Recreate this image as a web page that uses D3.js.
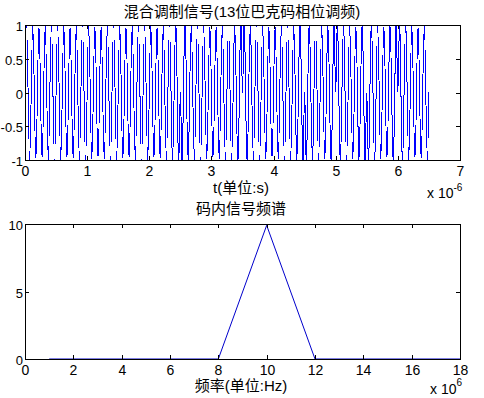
<!DOCTYPE html>
<html>
<head>
<meta charset="utf-8">
<style>
  body { margin: 0; background: #fff; }
  svg text { font-family: "Liberation Sans", "Noto Sans CJK SC", sans-serif; font-size: 14px; fill: #000; }
  svg text.ylab { font-size: 13px; }
  svg text.lbl { font-size: 15px; }
  .frame { fill: none; stroke: #000; stroke-width: 1; shape-rendering: crispEdges; }
  .tick { stroke: #000; stroke-width: 1; shape-rendering: crispEdges; }
</style>
</head>
<body>
<script src="https://d3js.org/d3.v7.min.js"></script>
<script>
// 13-bit Barker code, one bit per 0.5 us
var barkerCode = [1, 1, 1, 1, 1, -1, -1, 1, 1, -1, 1, -1, 1];

// signal samples, every quarter period of the 10 MHz carrier (0.025 us)
var sampleStep = 0.025e-6;
var signal = [
  0,1,0,-1, 0,1,0,-1, 0,1,0,-1, 0,1,0,-1, 0,1,0,-1,   // +
  0,1,0,-1, 0,1,0,-1, 0,1,0,-1, 0,1,0,-1, 0,1,0,-1,   // +
  0,1,0,-1, 0,1,0,-1, 0,1,0,-1, 0,1,0,-1, 0,1,0,-1,   // +
  0,1,0,-1, 0,1,0,-1, 0,1,0,-1, 0,1,0,-1, 0,1,0,-1,   // +
  0,1,0,-1, 0,1,0,-1, 0,1,0,-1, 0,1,0,-1, 0,1,0,-1,   // +
  0,-1,0,1, 0,-1,0,1, 0,-1,0,1, 0,-1,0,1, 0,-1,0,1,   // -
  0,-1,0,1, 0,-1,0,1, 0,-1,0,1, 0,-1,0,1, 0,-1,0,1,   // -
  0,1,0,-1, 0,1,0,-1, 0,1,0,-1, 0,1,0,-1, 0,1,0,-1,   // +
  0,1,0,-1, 0,1,0,-1, 0,1,0,-1, 0,1,0,-1, 0,1,0,-1,   // +
  0,-1,0,1, 0,-1,0,1, 0,-1,0,1, 0,-1,0,1, 0,-1,0,1,   // -
  0,1,0,-1, 0,1,0,-1, 0,1,0,-1, 0,1,0,-1, 0,1,0,-1,   // +
  0,-1,0,1, 0,-1,0,1, 0,-1,0,1, 0,-1,0,1, 0,-1,0,1,   // -
  0,1,0,-1, 0,1,0,-1, 0,1,0,-1, 0,1,0,-1, 0,1,0,-1,   // +
  0
];

var timeTicks = [0, 1, 2, 3, 4, 5, 6, 7];          // x 10^-6
var signalTicks = [-1, -0.5, 0, 0.5, 1];

// spectrum (frequency in Hz)
var freq = [1e6, 8e6, 10e6, 12e6, 18e6];
var amp = [0, 0, 9.9, 0, 0];
var freqTicks = [0, 2, 4, 6, 8, 10, 12, 14, 16, 18];  // x 10^6
var ampTicks = [0, 5, 10];

var svg = d3.select("body").append("svg")
    .attr("width", 484)
    .attr("height", 398);

function drawFrame(g, x, y, xt, yt, xs, ys) {
  var x0 = x.range()[0], x1 = x.range()[1];
  var y0 = y.range()[0], y1 = y.range()[1];
  var tl = 4;
  xt.forEach(function(t) {
    var px = Math.round(x(t * xs)) + 0.5;
    g.append("line").attr("class", "tick").attr("x1", px).attr("x2", px).attr("y1", y0).attr("y2", y0 - tl);
    g.append("line").attr("class", "tick").attr("x1", px).attr("x2", px).attr("y1", y1).attr("y2", y1 + tl);
    g.append("text").attr("x", px).attr("y", y0 + 16).attr("text-anchor", "middle").text(t);
  });
  yt.forEach(function(t) {
    var py = Math.round(y(t * ys)) + 0.5;
    g.append("line").attr("class", "tick").attr("x1", x0).attr("x2", x0 + tl).attr("y1", py).attr("y2", py);
    g.append("line").attr("class", "tick").attr("x1", x1).attr("x2", x1 - tl).attr("y1", py).attr("y2", py);
    g.append("text").attr("class", "ylab").attr("x", x0 - 2).attr("y", py + 5).attr("text-anchor", "end").text(t);
  });
}

// ---------- top: modulated signal ----------
var xT = d3.scaleLinear().domain([0, 7e-6]).range([25, 460]);
var yT = d3.scaleLinear().domain([-1, 1]).range([160, 25]);

var topG = svg.append("g");
topG.append("defs").append("clipPath").attr("id", "clipTop")
  .append("rect").attr("x", 25).attr("y", 25).attr("width", 436).attr("height", 136);

var sigLine = d3.line()
    .x(function(d, i) { return xT(i * sampleStep); })
    .y(function(d) { return yT(d); })
    .curve(d3.curveNatural);

topG.append("path")
    .datum(signal)
    .attr("clip-path", "url(#clipTop)")
    .attr("fill", "none")
    .attr("stroke", "#0000ff")
    .attr("stroke-width", 1)
    .attr("shape-rendering", "crispEdges")
    .attr("d", sigLine);

topG.append("rect").attr("class", "frame")
    .attr("x", 25.5).attr("y", 25.5).attr("width", 435).attr("height", 135);
drawFrame(topG, xT, yT, timeTicks, signalTicks, 1e-6, 1);

topG.append("text").attr("class", "lbl").attr("x", 242).attr("y", 17).attr("text-anchor", "middle")
    .text("混合调制信号(13位巴克码相位调频)");
topG.append("text").attr("class", "lbl").attr("x", 241).attr("y", 193).attr("text-anchor", "middle")
    .text("t(单位:s)");
var e1 = topG.append("text").attr("x", 427).attr("y", 198);
e1.append("tspan").text("x 10");
e1.append("tspan").attr("dy", -7).style("font-size", "10px").text("-6");

// ---------- bottom: spectrum ----------
var xB = d3.scaleLinear().domain([0, 18e6]).range([25, 460]);
var yB = d3.scaleLinear().domain([0, 10]).range([359, 224]);

var botG = svg.append("g");

var specLine = d3.line()
    .x(function(d, i) { return xB(freq[i]); })
    .y(function(d) { return yB(d); });

botG.append("path")
    .datum(amp)
    .attr("fill", "none")
    .attr("stroke", "#0000cc")
    .attr("stroke-width", 1)
    .attr("d", specLine);

botG.append("rect").attr("class", "frame")
    .attr("x", 25.5).attr("y", 224.5).attr("width", 435).attr("height", 135);
drawFrame(botG, xB, yB, freqTicks, ampTicks, 1e6, 1);

botG.append("text").attr("class", "lbl").attr("x", 241).attr("y", 214).attr("text-anchor", "middle")
    .text("码内信号频谱");
botG.append("text").attr("class", "lbl").attr("x", 241).attr("y", 391).attr("text-anchor", "middle")
    .text("频率(单位:Hz)");
var e2 = botG.append("text").attr("x", 430).attr("y", 394);
e2.append("tspan").text("x 10");
e2.append("tspan").attr("dy", -8).style("font-size", "10px").text("6");
</script>
</body>
</html>
